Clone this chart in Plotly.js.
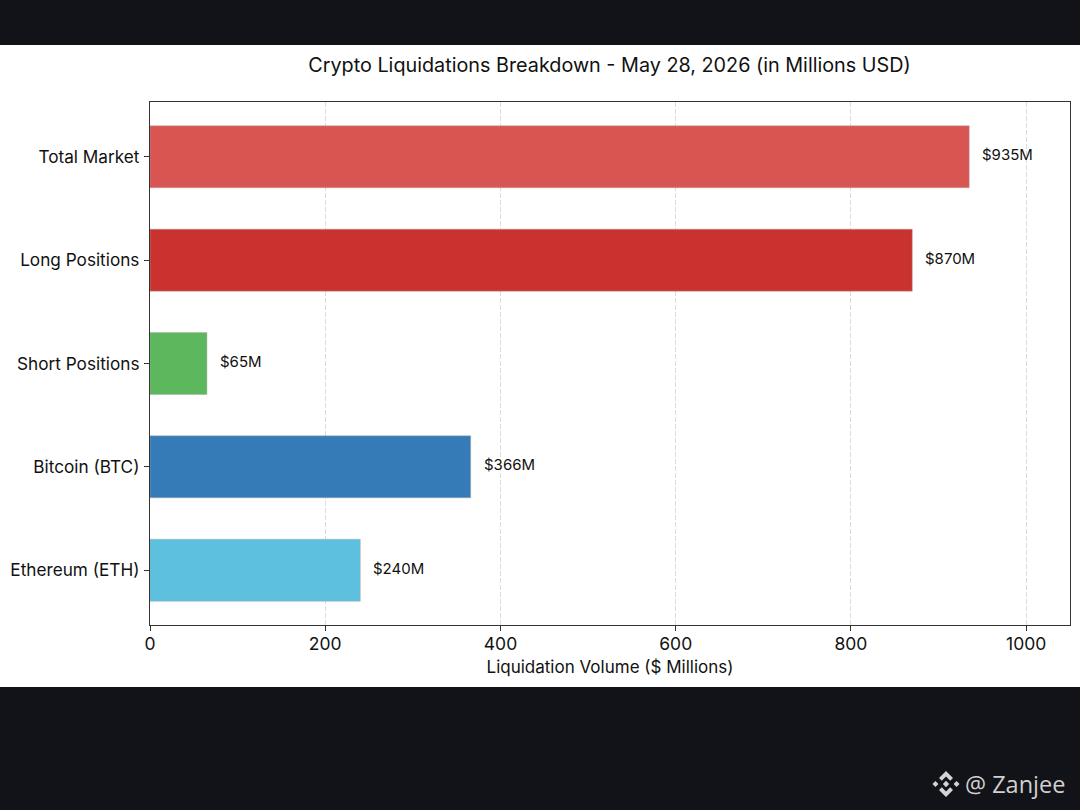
<!DOCTYPE html>
<html>
<head>
<meta charset="utf-8">
<script src="https://cdn.plot.ly/plotly-3.0.1.min.js"></script>
<style>
  html, body { margin: 0; padding: 0; background: #111318; }
  #graph { width: 1080px; height: 810px; }
</style>
</head>
<body>
<div id="graph"></div>
<script>
var categories = ['Total Market', 'Long Positions', 'Short Positions', 'Bitcoin (BTC)', 'Ethereum (ETH)'];
var volumes = [935, 870, 65, 366, 240];
var barColors = ['#d9534f', '#c9302c', '#5cb85c', '#337ab7', '#5bc0de'];
var xTicks = [0, 200, 400, 600, 800, 1000];

var fontName = 'Inter, "Open Sans", sans-serif';
var W = 1080, H = 810;
var left = 150, right = 1070, top_ = 102, bottom = 625;

// binance style mark, only a decoration of the watermark
var logo = 'data:image/svg+xml;utf8,' + encodeURIComponent(
  '<svg xmlns="http://www.w3.org/2000/svg" viewBox="1 1 30 30"><g fill="#d4d4d4">' +
  '<path d="M16 2l7.5 7.5-3 3-4.5-4.5-4.5 4.5-3-3z"/><path d="M16 30l7.5-7.5-3-3-4.5 4.5-4.5-4.5-3 3z"/>' +
  '<path d="M1.5 16l3.2-3.2 3.2 3.2-3.2 3.2z"/><path d="M24.1 16l3.2-3.2 3.2 3.2-3.2 3.2z"/><path d="M16 12.6l3.4 3.4-3.4 3.4-3.4-3.4z"/></g></svg>');

var bars = {
  type: 'bar',
  orientation: 'h',
  y: categories,
  x: volumes,
  width: 0.6,
  marker: {
    color: barColors,
    opacity: 0.99,
    line: { color: 'rgba(170,170,170,0.45)', width: 1 }
  },
  hoverinfo: 'x+y'
};

// page pixels to paper coords of the plot area
function px(x) { return (x - left) / (right - left); }
function py(y) { return (bottom - y) / (bottom - top_); }

var labels = categories.map(function (c, i) {
  return {
    x: volumes[i], y: c, xref: 'x', yref: 'y',
    text: '$' + volumes[i] + 'M',
    showarrow: false, xanchor: 'left', xshift: 11, yshift: 2,
    font: { family: fontName, size: 15, color: '#111' }
  };
});

labels.push({
  x: px(1067), y: py(784), xref: 'paper', yref: 'paper',
  text: '@ Zanjee', showarrow: false, xanchor: 'right', yanchor: 'middle',
  font: { family: '"Open Sans", sans-serif', size: 23.5, color: '#d0d0d0' }
});

var layout = {
  width: W,
  height: H,
  paper_bgcolor: '#111318',
  plot_bgcolor: 'rgba(0,0,0,0)',
  showlegend: false,
  margin: { l: left, r: W - right, t: top_, b: H - bottom, pad: 0 },
  title: {
    text: 'Crypto Liquidations Breakdown - May 28, 2026 (in Millions USD)',
    font: { family: fontName, size: 19.8, color: '#111' },
    x: 609.5 / W, xanchor: 'center', y: 1 - 65 / H, yanchor: 'middle'
  },
  xaxis: {
    range: [0, 1050],
    tickvals: xTicks,
    ticks: 'outside', ticklen: 5, tickwidth: 1, tickcolor: '#333',
    ticklabelstandoff: -2,
    tickfont: { family: fontName, size: 17.5, color: '#111' },
    showgrid: true, gridcolor: '#dcdcdc', griddash: '5px,2px', gridwidth: 1,
    zeroline: false,
    showline: true, linecolor: '#333', linewidth: 1.2, mirror: true,
    title: { text: 'Liquidation Volume ($ Millions)', standoff: 8,
      font: { family: fontName, size: 17, color: '#111' } }
  },
  yaxis: {
    type: 'category',
    range: [4.53, -0.53],
    ticks: 'outside', ticklen: 5, tickwidth: 1, tickcolor: '#333',
    ticklabelstandoff: 1,
    tickfont: { family: fontName, size: 17.2, color: '#111' },
    showgrid: false, zeroline: false,
    showline: true, linecolor: '#333', linewidth: 1.2, mirror: true
  },
  shapes: [{
    type: 'rect', layer: 'below', xref: 'paper', yref: 'paper',
    x0: px(-3), x1: px(W + 3), y0: py(687), y1: py(45),
    fillcolor: '#ffffff', line: { width: 0 }
  }],
  images: [{
    source: logo, xref: 'paper', yref: 'paper',
    x: px(932), y: py(770), sizex: 28 / (right - left), sizey: 28 / (bottom - top_),
    xanchor: 'left', yanchor: 'top', sizing: 'contain', layer: 'above'
  }],
  annotations: labels,
  font: { family: fontName }
};

Plotly.newPlot('graph', [bars], layout, { displayModeBar: false, responsive: false });
</script>
</body>
</html>
